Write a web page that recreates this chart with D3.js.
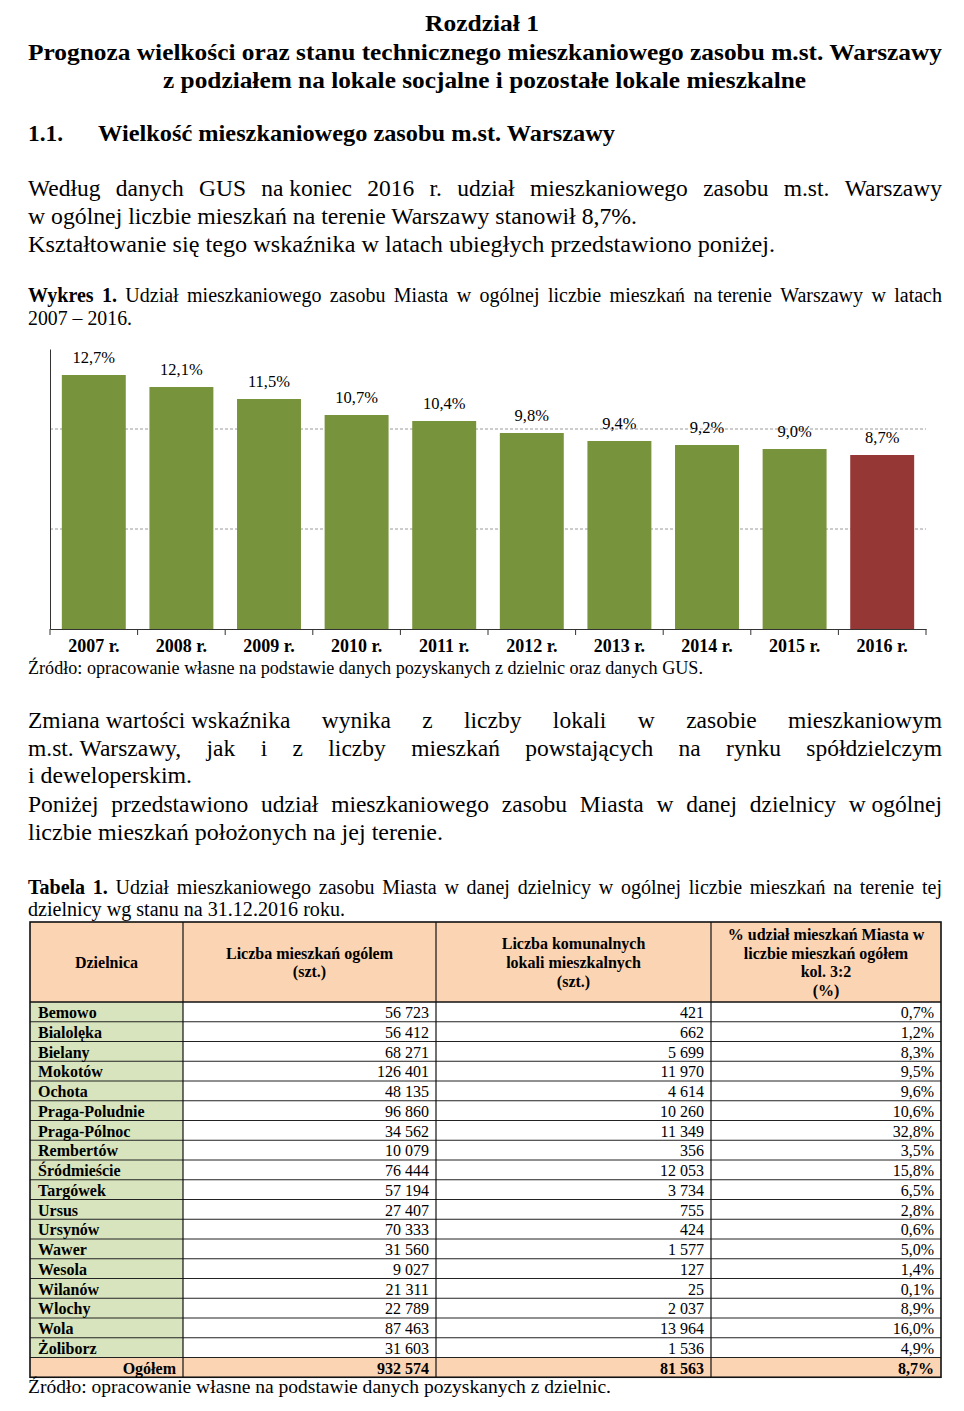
<!DOCTYPE html>
<html><head><meta charset="utf-8">
<script src="https://cdn.jsdelivr.net/npm/d3@7"></script>
<style>
body{margin:0;background:#fff}
svg{display:block}
text{font-family:"Liberation Serif","Times New Roman",serif;fill:#000}
</style>
</head><body>
<svg id="page" width="964" height="1411"></svg>
<script>
// ---------- DATA ----------
const years = ["2007 r.","2008 r.","2009 r.","2010 r.","2011 r.","2012 r.","2013 r.","2014 r.","2015 r.","2016 r."];
const shares = [12.7, 12.1, 11.5, 10.7, 10.4, 9.8, 9.4, 9.2, 9.0, 8.7];
const highlightYear = "2016 r.";
const gridValues = [5, 10];
const yMax = 14;

const districts = ["Bemowo","Bialolęka","Bielany","Mokotów","Ochota","Praga-Poludnie","Praga-Pólnoc","Rembertów","Śródmieście","Targówek","Ursus","Ursynów","Wawer","Wesola","Wilanów","Wlochy","Wola","Żoliborz"];
const totalFlats = [56723, 56412, 68271, 126401, 48135, 96860, 34562, 10079, 76444, 57194, 27407, 70333, 31560, 9027, 21311, 22789, 87463, 31603];
const communalFlats = [421, 662, 5699, 11970, 4614, 10260, 11349, 356, 12053, 3734, 755, 424, 1577, 127, 25, 2037, 13964, 1536];
const districtShares = [0.7, 1.2, 8.3, 9.5, 9.6, 10.6, 32.8, 3.5, 15.8, 6.5, 2.8, 0.6, 5.0, 1.4, 0.1, 8.9, 16.0, 4.9];
const totalRow = ["Ogółem", 932574, 81563, 8.7];
const headerCols = [
  ["Dzielnica"],
  ["Liczba mieszkań ogólem", "(szt.)"],
  ["Liczba komunalnych", "lokali mieszkalnych", "(szt.)"],
  ["% udział mieszkań Miasta w", "liczbie mieszkań ogółem", "kol. 3:2", "(%)"]
];

// ---------- HELPERS ----------
const svg = d3.select("#page");
const NB = "\u00a0";
const pl = d3.formatLocale({decimal: ",", thousands: " ", grouping: [3], currency: ["", ""]});
const fInt = pl.format(",d");
const fPct = pl.format(".1f");

function plain(str, x, y, size, weight, width, anchor) {
  const t = svg.append("text").attr("x", x).attr("y", y)
    .attr("font-size", size).attr("font-weight", weight || "normal").text(str);
  if (anchor) t.attr("text-anchor", anchor);
  if (width) t.attr("textLength", width).attr("lengthAdjust", "spacingAndGlyphs");
  return t;
}
// words: array of [text, bold]
function justify(words, x0, x1, y, size) {
  const nodes = words.map(w => svg.append("text").attr("y", y).attr("font-size", size)
    .attr("font-weight", w[1] ? "bold" : "normal").text(w[0]));
  const widths = nodes.map(n => n.node().getComputedTextLength());
  const total = d3.sum(widths);
  const gap = (x1 - x0 - total) / (words.length - 1);
  let x = x0;
  nodes.forEach((n, i) => { n.attr("x", x); x += widths[i] + gap; });
}
const W = (s, b) => s.split(" ").map(t => [t, !!b]);

// ---------- HEADINGS ----------
plain("Rozdział 1", 482, 31, 23, "bold", 114, "middle");
plain("Prognoza wielkości oraz stanu technicznego mieszkaniowego zasobu m.st. Warszawy", 28, 60, 23, "bold", 914);
plain("z podziałem na lokale socjalne i pozostałe lokale mieszkalne", 163, 88, 23, "bold", 643);
plain("1.1.", 28, 141, 23, "bold", 35);
plain("Wielkość mieszkaniowego zasobu m.st. Warszawy", 98, 141, 23, "bold", 517);

// ---------- PARAGRAPH 1 ----------
justify(W("Według danych GUS na" + NB + "koniec 2016 r. udział mieszkaniowego zasobu m.st. Warszawy"), 28, 942, 196, 23.5);
plain("w ogólnej liczbie mieszkań na terenie Warszawy stanowił 8,7%.", 28, 224, 23.5, "normal", 609);
plain("Kształtowanie się tego wskaźnika w latach ubiegłych przedstawiono poniżej.", 28, 252, 23.5, "normal", 747);

// ---------- CHART CAPTION ----------
justify(W("Wykres 1.", true).concat(W("Udział mieszkaniowego zasobu Miasta w ogólnej liczbie mieszkań na" + NB + "terenie Warszawy w latach")), 28, 942, 302, 20);
plain("2007 – 2016.", 28, 325, 20, "normal", 104);

// ---------- BAR CHART ----------
const x = d3.scaleBand().domain(years).range([50, 926]).paddingInner(0.27).paddingOuter(0.135);
const y = d3.scaleLinear().domain([0, yMax]).range([629, 349]);
const chart = svg.append("g");

chart.selectAll("line.grid").data(gridValues).join("line").attr("class", "grid")
  .attr("x1", x.range()[0]).attr("x2", x.range()[1])
  .attr("y1", d => y(d)).attr("y2", d => y(d))
  .attr("stroke", "#9a9a9a").attr("stroke-width", 1).attr("stroke-dasharray", "3,2");

chart.selectAll("rect.bar").data(years).join("rect").attr("class", "bar")
  .attr("x", d => x(d)).attr("width", x.bandwidth())
  .attr("y", (d, i) => y(shares[i])).attr("height", (d, i) => y(0) - y(shares[i]))
  .attr("fill", d => d === highlightYear ? "#953735" : "#77933c");

chart.selectAll("text.val").data(years).join("text").attr("class", "val")
  .attr("x", d => x(d) + x.bandwidth() / 2).attr("y", (d, i) => y(shares[i]) - 12)
  .attr("text-anchor", "middle").attr("font-size", 16.5)
  .text((d, i) => fPct(shares[i]) + "%");

const yAxis = chart.append("g").attr("transform", "translate(50,0)")
  .call(d3.axisLeft(y).tickValues([]).tickSizeOuter(0));
yAxis.select(".domain").attr("stroke", "#333");

const xAxis = chart.append("g").attr("transform", "translate(0,629)")
  .call(d3.axisBottom(x).tickSize(0).tickSizeOuter(0).tickPadding(0));
xAxis.select(".domain").attr("stroke", "#333");
xAxis.selectAll(".tick text").attr("y", 23).attr("dy", null)
  .attr("font-family", "Liberation Serif, serif").attr("font-size", 18)
  .attr("font-weight", "bold").attr("fill", "#000");
chart.selectAll("line.bt").data(d3.range(years.length + 1)).join("line").attr("class", "bt")
  .attr("x1", i => x.range()[0] + i * x.step()).attr("x2", i => x.range()[0] + i * x.step())
  .attr("y1", 629).attr("y2", 635).attr("stroke", "#333");

plain("Źródło: opracowanie własne na podstawie danych pozyskanych z dzielnic oraz danych GUS.", 28, 674, 18, "normal", 675);

// ---------- PARAGRAPHS 2,3 ----------
justify(W("Zmiana" + NB + "wartości" + NB + "wskaźnika wynika z liczby lokali w zasobie mieszkaniowym"), 28, 942, 728, 23.5);
justify(W("m.st." + NB + "Warszawy, jak i z liczby mieszkań powstających na rynku spółdzielczym"), 28, 942, 756, 23.5);
plain("i deweloperskim.", 28, 783, 23.5, "normal", 164);
justify(W("Poniżej przedstawiono udział mieszkaniowego zasobu Miasta w danej dzielnicy w" + NB + "ogólnej"), 28, 942, 812, 23.5);
plain("liczbie mieszkań położonych na jej terenie.", 28, 840, 23.5, "normal", 415);

// ---------- TABLE CAPTION ----------
justify(W("Tabela 1.", true).concat(W("Udział mieszkaniowego zasobu Miasta w danej dzielnicy w ogólnej liczbie mieszkań na terenie tej")), 28, 942, 894, 20);
plain("dzielnicy wg stanu na 31.12.2016 roku.", 28, 916, 20, "normal", 317);

// ---------- TABLE ----------
const colX = [30, 183, 436, 711, 941];
const headTop = 922, headBot = 1002, rowH = 19.75;
const nRows = districts.length + 1;
const tableBot = headBot + nRows * rowH;
const rowY = d3.scaleLinear().domain([0, nRows]).range([headBot, tableBot]);
const tbl = svg.append("g");

tbl.append("rect").attr("x", colX[0]).attr("y", headTop).attr("width", colX[4] - colX[0]).attr("height", headBot - headTop).attr("fill", "#fbd4b4");
tbl.selectAll("rect.g").data(districts).join("rect").attr("class", "g")
  .attr("x", colX[0]).attr("y", (d, i) => rowY(i)).attr("width", colX[1] - colX[0]).attr("height", rowH)
  .attr("fill", "#d7e4bd");
tbl.append("rect").attr("x", colX[0]).attr("y", rowY(districts.length)).attr("width", colX[4] - colX[0]).attr("height", rowH).attr("fill", "#fbd4b4");

// header text
const headLineH = 18.7;
headerCols.forEach((lines, c) => {
  const cx = (colX[c] + colX[c + 1]) / 2;
  const mid = (headTop + headBot) / 2 + 6;
  lines.forEach((ln, k) => {
    plain(ln, cx, mid + (k - (lines.length - 1) / 2) * headLineH, 16, "bold", null, "middle");
  });
});

// body text
districts.forEach((d, i) => {
  const by = rowY(i) + 16;
  plain(d, 38, by, 16, "bold");
  plain(fInt(totalFlats[i]), colX[2] - 7, by, 16, "normal", null, "end");
  plain(fInt(communalFlats[i]), colX[3] - 7, by, 16, "normal", null, "end");
  plain(fPct(districtShares[i]) + "%", colX[4] - 7, by, 16, "normal", null, "end");
});
{
  const by = rowY(districts.length) + 16;
  plain(totalRow[0], colX[1] - 7, by, 16, "bold", null, "end");
  plain(fInt(totalRow[1]), colX[2] - 7, by, 16, "bold", null, "end");
  plain(fInt(totalRow[2]), colX[3] - 7, by, 16, "bold", null, "end");
  plain(fPct(totalRow[3]) + "%", colX[4] - 7, by, 16, "bold", null, "end");
}

// grid lines
tbl.selectAll("line.h").data(d3.range(1, nRows)).join("line").attr("class", "h")
  .attr("x1", colX[0]).attr("x2", colX[4]).attr("y1", i => rowY(i)).attr("y2", i => rowY(i))
  .attr("stroke", "#222").attr("stroke-width", 1);
tbl.append("line").attr("x1", colX[0]).attr("x2", colX[4]).attr("y1", headBot).attr("y2", headBot)
  .attr("stroke", "#111").attr("stroke-width", 1.5);
tbl.selectAll("line.v").data(colX.slice(1, 4)).join("line").attr("class", "v")
  .attr("x1", d => d).attr("x2", d => d).attr("y1", headTop).attr("y2", tableBot)
  .attr("stroke", "#111").attr("stroke-width", 1.2);
tbl.append("rect").attr("x", colX[0]).attr("y", headTop).attr("width", colX[4] - colX[0]).attr("height", tableBot - headTop)
  .attr("fill", "none").attr("stroke", "#111").attr("stroke-width", 1.6);

plain("Źródło: opracowanie własne na podstawie danych pozyskanych z dzielnic.", 28, 1393, 19.5, "normal", 583);
</script>
</body></html>
